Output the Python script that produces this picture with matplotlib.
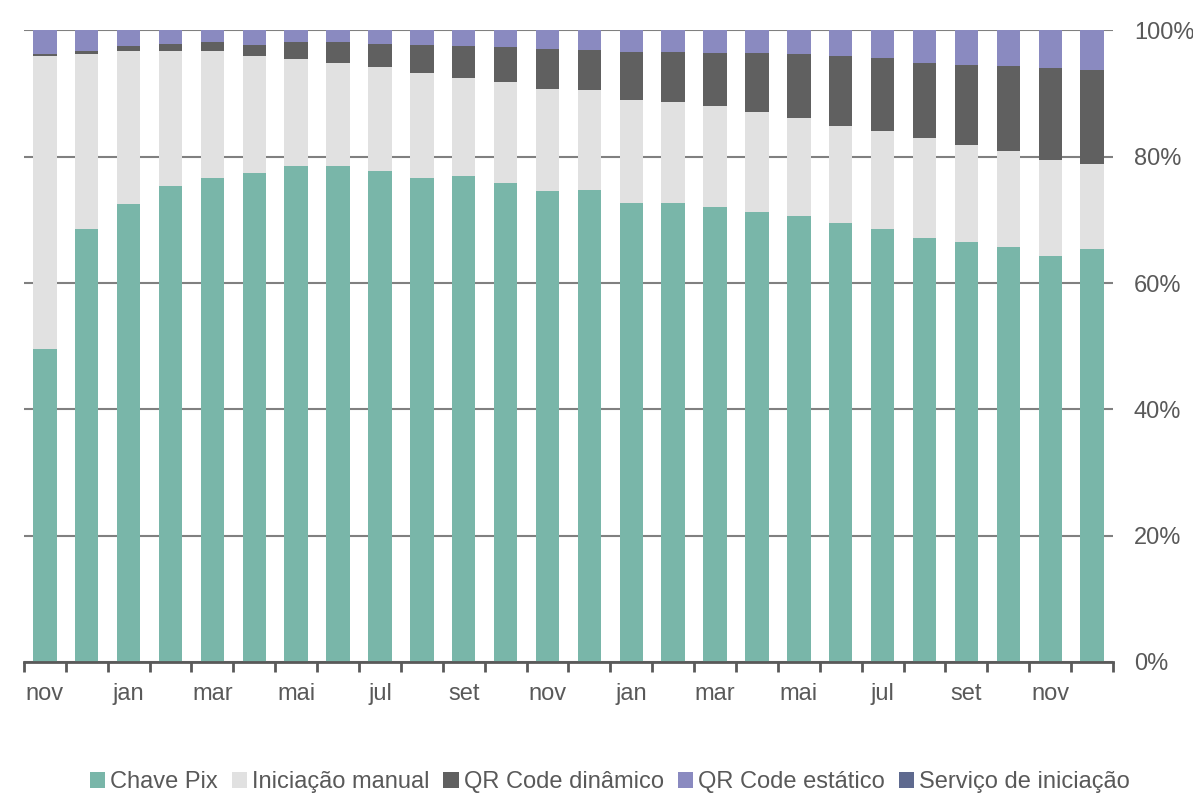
import numpy as np
import matplotlib
matplotlib.use('Agg')
import matplotlib.pyplot as plt

plt.rcParams['font.family'] = ['Liberation Sans', 'DejaVu Sans']

# Monthly share (%) of Pix transactions by initiation type, nov/2020 - dez/2022
months = ['nov', 'dez', 'jan', 'fev', 'mar', 'abr', 'mai', 'jun', 'jul', 'ago', 'set', 'out', 'nov',
          'dez', 'jan', 'fev', 'mar', 'abr', 'mai', 'jun', 'jul', 'ago', 'set', 'out', 'nov', 'dez']
chave = [49.5, 68.5, 72.5, 75.3, 76.7, 77.4, 78.5, 78.5, 77.7, 76.6, 77.0, 75.9, 74.6,
         74.8, 72.7, 72.6, 72.0, 71.3, 70.6, 69.5, 68.5, 67.2, 66.5, 65.7, 64.2, 65.4]
manual = [46.5, 27.8, 24.2, 21.5, 20.0, 18.6, 17.0, 16.4, 16.5, 16.6, 15.5, 15.9, 16.1,
          15.7, 16.2, 16.1, 16.0, 15.8, 15.6, 15.4, 15.6, 15.8, 15.4, 15.2, 15.3, 13.4]
qr_dinamico = [0.3, 0.4, 0.9, 1.0, 1.4, 1.7, 2.6, 3.2, 3.6, 4.5, 5.1, 5.6, 6.4,
               6.4, 7.7, 7.9, 8.4, 9.3, 10.0, 11.0, 11.6, 11.9, 12.6, 13.5, 14.5, 15.0]
qr_estatico = [3.7, 3.3, 2.4, 2.2, 1.9, 2.3, 1.9, 1.9, 2.2, 2.3, 2.4, 2.6, 2.9,
               3.1, 3.4, 3.4, 3.6, 3.6, 3.8, 4.1, 4.3, 5.1, 5.5, 5.6, 6.0, 6.2]
servico = [0.0, 0.0, 0.0, 0.0, 0.0, 0.0, 0.0, 0.0, 0.0, 0.0, 0.0, 0.0, 0.0,
           0.0, 0.0, 0.0, 0.0, 0.0, 0.0, 0.0, 0.0, 0.0, 0.0, 0.0, 0.0, 0.0]

series = [
    ('Chave Pix', chave, '#79B6A9'),
    ('Iniciação manual', manual, '#E1E1E1'),
    ('QR Code dinâmico', qr_dinamico, '#606060'),
    ('QR Code estático', qr_estatico, '#8A8AC0'),
    ('Serviço de iniciação', servico, '#5F6A8F'),
]

fig = plt.figure(figsize=(11.93, 7.99), dpi=100)
ax = fig.add_axes([0.02, 0.1715, 0.913, 0.7905])

x = np.arange(len(months))
bottom = np.zeros(len(months))
for name, vals, color in series:
    vals = np.array(vals)
    ax.bar(x, vals, 0.56, bottom=bottom, color=color, label=name, zorder=2)
    bottom += vals

ax.set_xlim(-0.5, len(months) - 0.5)
ax.set_ylim(0, 100)

# y axis on the right, gridlines every 20%
ax.yaxis.tick_right()
ax.set_yticks(np.arange(0, 101, 20))
ax.set_yticklabels(['%d%%' % v for v in range(0, 101, 20)])
ax.tick_params(axis='y', length=0, pad=15, labelsize=17, labelcolor='#595959')
ax.grid(axis='y', color='#808080', linewidth=1.5, zorder=0)

# x axis: labels every other month, ticks at category boundaries
ax.set_xticks(x[::2])
ax.set_xticklabels(months[::2])
ax.set_xticks(np.arange(-0.5, len(months), 1), minor=True)
ax.tick_params(axis='x', which='major', length=0, pad=15, labelsize=17, labelcolor='#595959')
ax.tick_params(axis='x', which='minor', length=7, width=2, color='#595959', direction='out')

for s in ['left', 'right', 'top']:
    ax.spines[s].set_visible(False)
ax.spines['bottom'].set_color('#595959')
ax.spines['bottom'].set_linewidth(2)
ax.spines['bottom'].set_zorder(3)

handles, labels = ax.get_legend_handles_labels()
fig.legend(handles, labels, loc='center', bbox_to_anchor=(0.511, 0.021), ncol=5,
           frameon=False, fontsize=17, handlelength=0.65, handleheight=0.65,
           handletextpad=0.2, columnspacing=0.6, labelcolor='#595959')

fig.savefig('out.png', dpi=100)
